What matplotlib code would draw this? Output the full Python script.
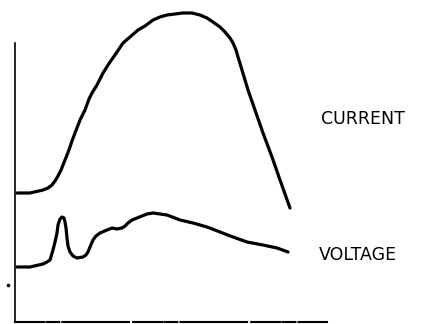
import numpy as np
import matplotlib
matplotlib.use("Agg")
import matplotlib.pyplot as plt

# Traces (time in px units, amplitude above the base line)
t_current = [17, 30, 43, 48, 52, 55, 58, 61, 63, 65, 67, 70, 72, 75, 80, 85, 89, 92, 97, 103,
             110, 117, 123, 130, 138, 145, 153, 160, 167, 175, 183, 192, 200, 207, 213, 220,
             225, 230, 233, 236, 238, 242, 248, 255, 263, 272, 280, 290]
current = [131, 131, 134, 136, 139, 143, 148, 154, 159, 164, 169, 177, 183, 191, 204, 214,
           225, 231, 239, 251, 262, 272, 281, 287, 294, 298, 304, 307, 309, 310, 311, 311,
           309, 306, 302, 297, 292, 286, 281, 274, 267, 254, 234, 214, 191, 167, 144, 116]

t_voltage = [17, 30, 43, 47, 50, 53, 55, 57, 58, 60, 62, 64, 65, 66, 67, 68, 70, 73, 77, 83,
             86, 88, 90, 93, 96, 100, 107, 112, 117, 122, 125, 128, 132, 137, 142, 147, 153,
             160, 167, 180, 193, 207, 220, 233, 247, 263, 277, 288]
voltage = [57, 57, 60, 62, 64, 74, 82, 91, 99, 105, 107, 106, 102, 96, 86, 78, 72, 68, 66, 67,
           69, 72, 77, 84, 88, 91, 94, 96, 95, 96, 98, 101, 104, 106, 108, 110, 111, 110, 109,
           104, 101, 97, 92, 87, 82, 79, 76, 72]

labels = ["CURRENT", "VOLTAGE"]
label_pos = [(321, 205), (319, 69)]

fig = plt.figure(figsize=(4.26, 3.24), dpi=100)
ax = fig.add_axes([0, 0, 1, 1])
ax.set_xlim(0, 426)
ax.set_ylim(0, 324)

trace = dict(color="black", linewidth=2.3, solid_capstyle="round", solid_joinstyle="round")
ax.plot(t_current, current, **trace)
ax.plot(t_voltage, voltage, **trace)

# stray dot on the left of the screen
ax.plot([8], [39], marker="o", markersize=1.6, color="black")

for text, (x, y) in zip(labels, label_pos):
    ax.text(x, y, text, fontsize=12.5, family="DejaVu Sans", ha="left", va="center",
            color="black")

# axes as a bare frame: vertical line on the left, broken base line at the bottom
for side in ["top", "right"]:
    ax.spines[side].set_visible(False)
ax.spines["left"].set_position(("data", 15))
ax.spines["left"].set_bounds(2, 281)
ax.spines["left"].set_linewidth(1.2)
ax.spines["bottom"].set_position(("data", 2))
ax.spines["bottom"].set_bounds(15, 327)
ax.spines["bottom"].set_linewidth(1.5)
ax.spines["bottom"].set_linestyle((0, (14, 1.2, 6, 1.5, 22, 1, 9, 2)))
ax.set_xticks([])
ax.set_yticks([])

fig.savefig("out.png", dpi=100)
